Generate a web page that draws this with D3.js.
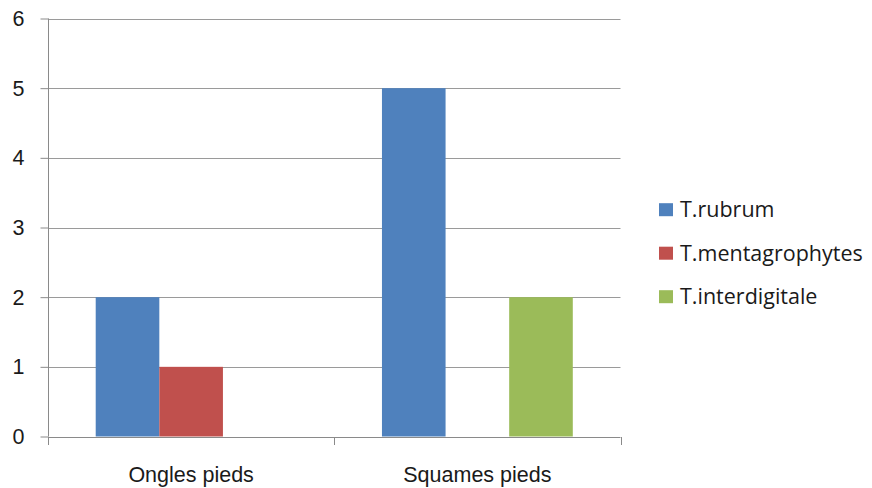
<!DOCTYPE html>
<html>
<head>
<meta charset="utf-8">
<script src="https://cdn.jsdelivr.net/npm/d3@7"></script>
<style>
  html, body { margin: 0; padding: 0; background: #fff; }
  svg { display: block; font-family: "Open Sans", Lato, sans-serif; }
</style>
</head>
<body>
<svg id="chart" width="872" height="488"></svg>
<script>
// Sample sites and dermatophyte counts per species
const categories = ["Ongles pieds", "Squames pieds"];
const seriesNames = ["T.rubrum", "T.mentagrophytes", "T.interdigitale"];
const rubrum = [2, 5];
const mentagrophytes = [1, 0];
const interdigitale = [0, 2];
const yTicks = [0, 1, 2, 3, 4, 5, 6];
const colors = ["#4F81BD", "#C0504D", "#9BBB59"];

const seriesValues = [rubrum, mentagrophytes, interdigitale];

const svg = d3.select("#chart");
const plot = { left: 48, right: 620.5, top: 18.5, bottom: 436.5 };
const fontSize = "21.5px";

const x0 = d3.scaleBand().domain(categories).range([plot.left, plot.right]).paddingInner(0).paddingOuter(0);
// 150% gap width: each band holds 3 bars plus 1.5 bar widths of space
const x1 = d3.scaleBand().domain(seriesNames).range([0, x0.bandwidth()]).paddingInner(0).paddingOuter(0.75);
const y = d3.scaleLinear().domain([0, 6]).range([plot.bottom, plot.top]);

// horizontal gridlines
svg.append("g")
  .selectAll("line")
  .data(yTicks.filter(d => d > 0))
  .join("line")
  .attr("x1", plot.left).attr("x2", plot.right)
  .attr("y1", d => Math.round(y(d)) + 0.5).attr("y2", d => Math.round(y(d)) + 0.5)
  .attr("stroke", "#9a9a9a").attr("stroke-width", 1);

// bars
const rows = [];
categories.forEach((c, i) => {
  seriesNames.forEach((s, j) => rows.push({ cat: c, series: s, value: seriesValues[j][i], color: colors[j] }));
});
svg.append("g")
  .selectAll("rect")
  .data(rows.filter(d => d.value > 0))
  .join("rect")
  .attr("x", d => x0(d.cat) + x1(d.series))
  .attr("width", x1.bandwidth())
  .attr("y", d => y(d.value))
  .attr("height", d => y(0) - y(d.value))
  .attr("fill", d => d.color);

// y axis
const yAxis = svg.append("g")
  .attr("transform", `translate(${plot.left + 0.5},0)`)
  .call(d3.axisLeft(y).tickValues(yTicks).tickSize(8).tickPadding(16).tickFormat(d3.format("d")));
yAxis.select(".domain").attr("stroke", "#8a8a8a").attr("d", `M0,${plot.top}V${plot.bottom}`);
yAxis.selectAll(".tick line").attr("stroke", "#8a8a8a");
yAxis.selectAll(".tick text").attr("fill", "#1a1a1a").style("font-size", fontSize);

// x axis
const xAxis = svg.append("g")
  .attr("transform", `translate(0,${Math.round(y(0)) + 0.5})`)
  .call(d3.axisBottom(x0).tickSize(0).tickPadding(29));
xAxis.select(".domain").attr("stroke", "#8a8a8a").attr("d", `M${plot.left},0H${plot.right}`);
xAxis.selectAll(".tick text").attr("fill", "#1a1a1a").style("font-size", fontSize);
// category boundary ticks
svg.append("g")
  .selectAll("line")
  .data([...categories.map(c => x0(c)), plot.right])
  .join("line")
  .attr("x1", d => Math.round(d) + 0.5).attr("x2", d => Math.round(d) + 0.5)
  .attr("y1", Math.round(y(0))).attr("y2", Math.round(y(0)) + 8)
  .attr("stroke", "#8a8a8a");

// legend
const legend = svg.append("g").attr("transform", "translate(659,0)");
const ly = d3.scalePoint().domain(seriesNames).range([209.7, 296.7]);
const item = legend.selectAll("g").data(seriesNames).join("g")
  .attr("transform", d => `translate(0,${ly(d)})`);
item.append("rect").attr("x", 0).attr("y", -6.5).attr("width", 14).attr("height", 13)
  .attr("fill", (d, i) => colors[i]);
item.append("text").attr("x", 21).attr("dy", "0.35em")
  .attr("fill", "#1a1a1a").style("font-size", fontSize).text(d => d);
</script>
</body>
</html>
